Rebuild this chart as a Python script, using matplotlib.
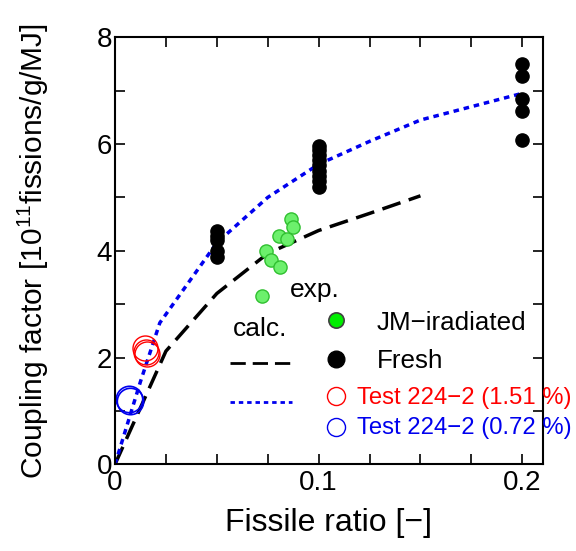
import matplotlib
matplotlib.use("Agg")
import matplotlib.pyplot as plt
from matplotlib.ticker import MultipleLocator, FuncFormatter

plt.rcParams['font.family'] = ['Liberation Sans', 'DejaVu Sans']
plt.rcParams['mathtext.default'] = 'regular'

# calculated curves
calc_jm_x = [0.0, 0.025, 0.05, 0.075, 0.1, 0.125, 0.15]
calc_jm_y = [0.0, 2.12, 3.2, 3.95, 4.38, 4.7, 5.03]
calc_fresh_x = [0.0, 0.0125, 0.022, 0.05, 0.075, 0.1, 0.125, 0.15, 0.175, 0.2]
calc_fresh_y = [0.0, 1.55, 2.65, 4.15, 5.0, 5.62, 6.05, 6.45, 6.7, 6.95]

# experiments
jm_x = [0.0724, 0.0741, 0.0767, 0.0811, 0.0806, 0.0844, 0.0862, 0.0875]
jm_y = [3.15, 4.00, 3.82, 3.70, 4.27, 4.22, 4.60, 4.45]
fresh_x = [0.05] * 5 + [0.1] * 9 + [0.2] * 5
fresh_y = [4.37, 4.28, 4.20, 4.00, 3.88,
           5.97, 5.88, 5.80, 5.70, 5.60, 5.50, 5.40, 5.30, 5.20,
           7.50, 7.27, 6.85, 6.61, 6.08]
t151_x = [0.0145, 0.0150, 0.0155]
t151_y = [2.17, 2.11, 2.06]
t072_x = [0.0068, 0.0072]
t072_y = [1.22, 1.19]

fig = plt.figure(figsize=(5.76, 5.51), dpi=100)
ax = fig.add_axes([0.1997, 0.1574, 0.7423, 0.7749])

ax.plot(calc_jm_x, calc_jm_y, color='black', lw=2.5, dashes=(5.5, 2.5))
ax.plot(calc_fresh_x, calc_fresh_y, color='#0000ee', lw=2.5, dashes=(1.6, 1.4))

ax.plot(jm_x, jm_y, 'o', ms=9.5, mfc='#6cf06c', mec='#30c030', mew=1.0, ls='none')
ax.plot(fresh_x, fresh_y, 'o', ms=9.5, mfc='black', mec='black', ls='none')
ax.plot(t151_x, t151_y, 'o', ms=18, mfc='none', mec='red', mew=1.0, ls='none')
ax.plot(t072_x, t072_y, 'o', ms=19, mfc='none', mec='#0000ee', mew=1.2, ls='none')

ax.set_xlim(0, 0.21)
ax.set_ylim(0, 8)
ax.xaxis.set_major_locator(MultipleLocator(0.1))
ax.xaxis.set_minor_locator(MultipleLocator(0.025))
ax.yaxis.set_major_locator(MultipleLocator(2))
ax.yaxis.set_minor_locator(MultipleLocator(1))
ax.xaxis.set_major_formatter(FuncFormatter(lambda v, p: '0' if abs(v) < 1e-9 else f'{v:.1f}'))
ax.tick_params(which='both', direction='in', top=True, right=True, width=1.2,
               labelsize=20, pad=4, length=7)
ax.tick_params(axis='y', pad=2)
for s in ax.spines.values():
    s.set_linewidth(1.5)

ax.set_xlabel('Fissile ratio [\u2212]', fontsize=23, labelpad=9)
ax.set_ylabel('Coupling factor [10$^{11}$fissions/g/MJ]', fontsize=21.5, labelpad=33)

# legend (manual)
T = ax.transAxes
def ax_pt(px, py):
    # figure pixel -> axes fraction
    return ((px - 115) / (542.7 - 115), (464.3 - py) / (464.3 - 37.3))

x, y = ax_pt(315, 290); ax.text(x, y, 'exp.', transform=T, fontsize=19, ha='center', va='center')
x, y = ax_pt(260, 329); ax.text(x, y, 'calc.', transform=T, fontsize=19, ha='center', va='center')
x0, y = ax_pt(230, 363); x1, _ = ax_pt(292, 363)
ax.plot([x0, x1], [y, y], transform=T, color='black', lw=2.0, dashes=(5.5, 2.5), clip_on=False)
x0, y = ax_pt(230, 402); x1, _ = ax_pt(292, 402)
ax.plot([x0, x1], [y, y], transform=T, color='#0000ee', lw=2.0, dashes=(1.6, 1.4), clip_on=False)

x, y = ax_pt(336, 320); ax.plot([x], [y], 'o', transform=T, ms=11, mfc='#00ee00', mec='#404040', mew=1.2, clip_on=False)
x, y = ax_pt(336, 359); ax.plot([x], [y], 'o', transform=T, ms=12, mfc='black', mec='black', clip_on=False)
x, y = ax_pt(336, 396); ax.plot([x], [y], 'o', transform=T, ms=13, mfc='none', mec='red', mew=1.0, clip_on=False)
x, y = ax_pt(336, 427); ax.plot([x], [y], 'o', transform=T, ms=13, mfc='none', mec='#0000ee', mew=1.0, clip_on=False)

x, y = ax_pt(377, 323); ax.text(x, y, 'JM\u2212iradiated', transform=T, fontsize=18.7, va='center', ha='left')
x, y = ax_pt(377, 361); ax.text(x, y, 'Fresh', transform=T, fontsize=18.7, va='center', ha='left')
x, y = ax_pt(357, 398); ax.text(x, y, 'Test 224\u22122 (1.51 %)', transform=T, fontsize=17.2, color='red', va='center', ha='left', clip_on=False)
x, y = ax_pt(357, 428); ax.text(x, y, 'Test 224\u22122 (0.72 %)', transform=T, fontsize=17.2, color='#0000ee', va='center', ha='left', clip_on=False)

fig.savefig('out.png', dpi=100)
